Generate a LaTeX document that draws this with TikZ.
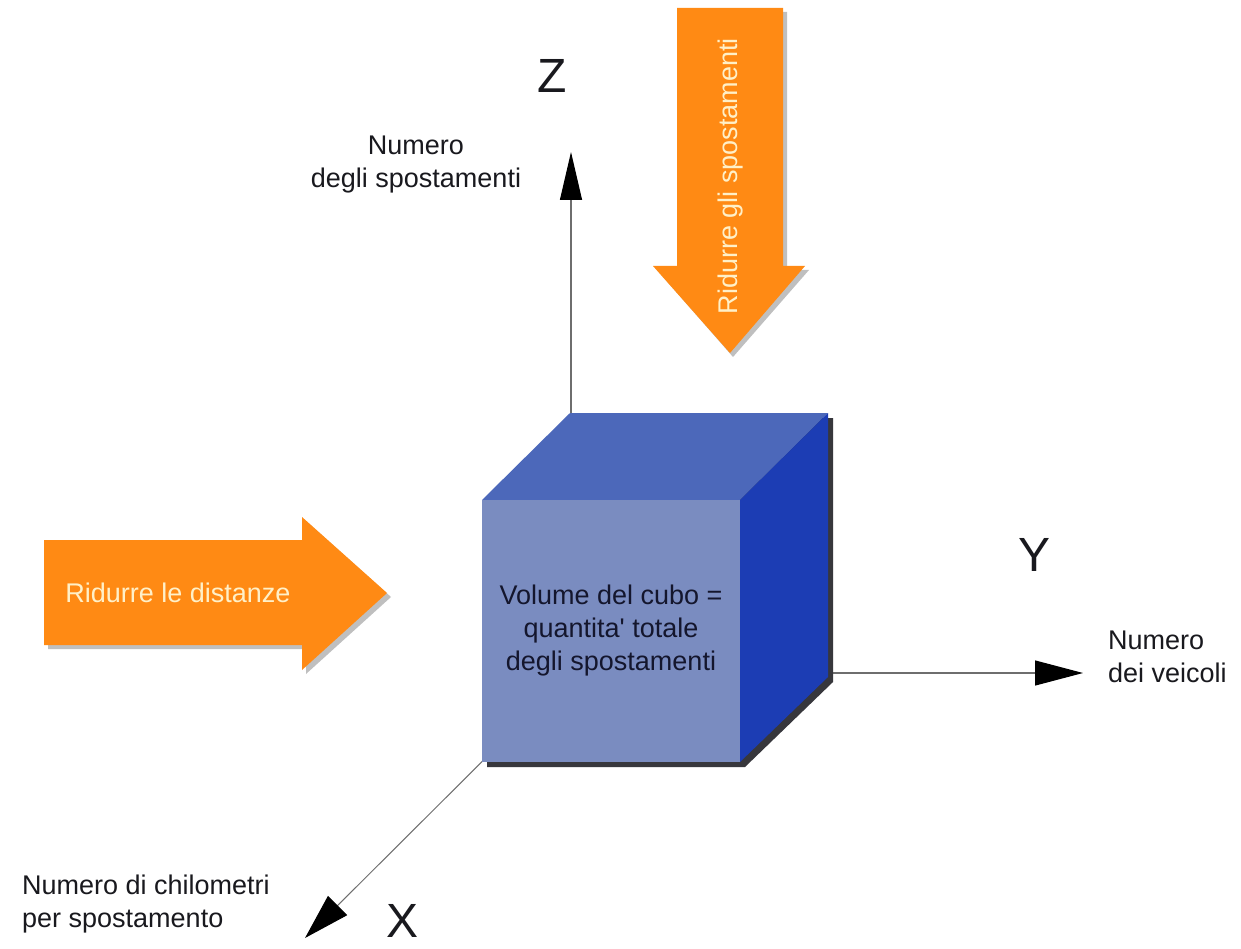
\documentclass[tikz,border=0pt]{standalone}
\usepackage{fontspec}
\setmainfont{Liberation Sans}
\usetikzlibrary{arrows.meta}
\definecolor{frontc}{RGB}{122,140,192}
\definecolor{topc}{RGB}{76,104,186}
\definecolor{rightc}{RGB}{28,61,180}
\definecolor{shadowc}{RGB}{55,55,60}
\definecolor{orangec}{RGB}{255,138,20}
\definecolor{creamc}{RGB}{255,240,200}
\definecolor{axisc}{RGB}{110,110,110}
\definecolor{textc}{RGB}{25,25,30}
\definecolor{cubetext}{RGB}{20,22,45}
\tikzset{
  axis/.style={draw=axisc, line width=1.2pt},
  axislabel/.style={font=\fontsize{27}{33}\selectfont, text=textc, inner sep=0pt},
  axisletter/.style={font=\fontsize{48}{48}\selectfont, text=textc, inner sep=0pt},
  orangearrow/.style={fill=orangec},
  orangeshadow/.style={fill=black, opacity=0.25},
  orangetext/.style={font=\fontsize{27}{33}\selectfont, text=creamc, inner sep=0pt},
  frontface/.style={fill=frontc, draw=none, inner sep=0pt, align=center,
    font=\fontsize{27}{33}\selectfont, text=cubetext},
}
\begin{document}
\begin{tikzpicture}[x=1pt,y=-1pt]
\useasboundingbox (0,0) rectangle (1241,949);
\fill[white] (0,0) rectangle (1241,949);

% axes
\coordinate (O) at (571,673);
\coordinate (ztip) at (571,152);
\coordinate (ytip) at (1083,673);
\coordinate (xtip) at (305,938);
\draw[axis, -{Triangle[length=48pt,width=22pt,black]}] (O) -- (ztip);
\draw[axis, -{Triangle[length=48pt,width=25pt,black]}] (O) -- (ytip);
\draw[axis, line width=1pt, -{Triangle[length=46pt,width=27pt,black]}] (O) -- (xtip);

% cube shadow
\fill[shadowc] (487,505) -- (575,418) -- (833,418) -- (833,682) -- (745,767) -- (487,767) -- cycle;
% cube faces
\fill[topc] (482,500) -- (570,413) -- (828,413) -- (740,500) -- cycle;
\fill[rightc] (740,500) -- (828,413) -- (828,677) -- (740,762) -- cycle;
\node[frontface, minimum width=258pt, minimum height=262pt] (front) at (611,631)
  {Volume del cubo =\\quantita\textquotesingle{} totale\\degli spostamenti};

% orange arrows
\fill[orangeshadow] (681,12) -- (787,12) -- (787,270) -- (809,270) -- (733,357) -- (657,270) -- (681,270) -- cycle;
\fill[orangearrow] (677,8) -- (783,8) -- (783,266) -- (805,266) -- (730,353) -- (653,266) -- (677,266) -- cycle;
\node[orangetext, rotate=90] (reducemoves) at (731,176) {Ridurre gli spostamenti};

\fill[orangeshadow] (48,544) -- (306,544) -- (306,521) -- (391,597) -- (306,674) -- (306,649) -- (48,649) -- cycle;
\fill[orangearrow] (44,540) -- (302,540) -- (302,517) -- (387,593) -- (302,670) -- (302,645) -- (44,645) -- cycle;
\node[orangetext] (reducedist) at (178,593) {Ridurre le distanze};

% labels
\node[axisletter] (zlab) at (552,76) {Z};
\node[axislabel, align=center] (zdesc) at (416,165) {Numero\\degli spostamenti};
\node[axisletter] (ylab) at (1034,555) {Y};
\node[axislabel, align=left, anchor=west] (ydesc) at (1108,657) {Numero\\dei veicoli};
\node[axisletter] (xlab) at (403,921) {X};
\node[axislabel, align=left, anchor=west] (xdesc) at (22,904) {Numero di chilometri\\per spostamento};
\end{tikzpicture}
\end{document}
